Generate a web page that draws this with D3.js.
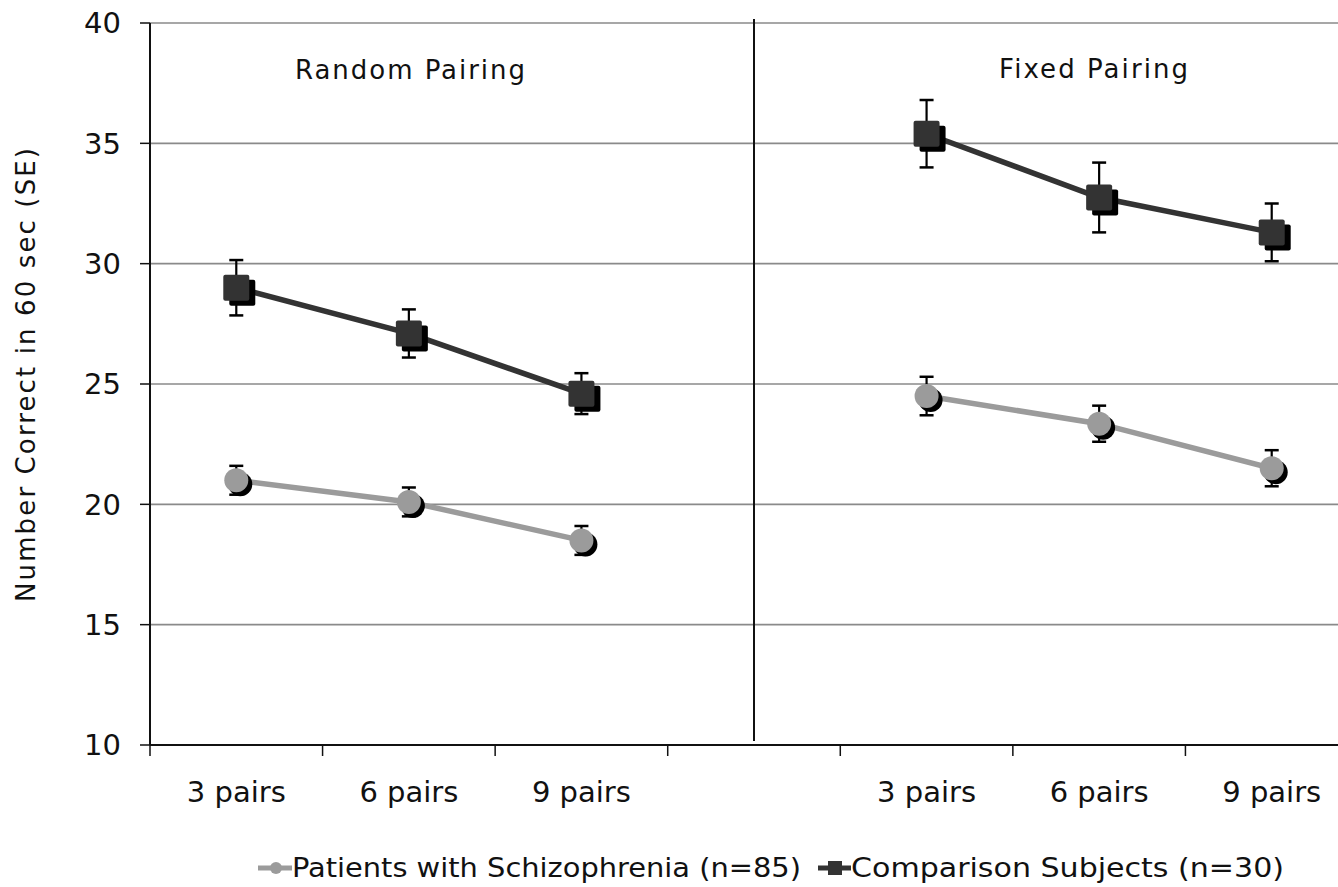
<!DOCTYPE html>
<html><head><meta charset="utf-8">
<script src="https://cdn.jsdelivr.net/npm/d3@7"></script>
<style>body{margin:0;background:#fff;} svg{display:block;}</style>
</head><body>
<svg id="c" width="1338" height="887"></svg>
<script>
const categories = ["3 pairs","6 pairs","9 pairs","","3 pairs","6 pairs","9 pairs"];
const panels = ["Random Pairing","Fixed Pairing"];
const yTicks = [10,15,20,25,30,35,40];
const seriesNames = ["Patients with Schizophrenia (n=85)","Comparison Subjects (n=30)"];
// category index, value, SE
const patientsIdx = [0,1,2,4,5,6];
const patientsVal = [21.0,20.1,18.5,24.5,23.35,21.5];
const patientsSE  = [0.6,0.6,0.6,0.8,0.75,0.75];
const compIdx = [0,1,2,4,5,6];
const compVal = [29.0,27.1,24.6,35.4,32.75,31.3];
const compSE  = [1.15,1.0,0.85,1.4,1.45,1.2];

const svg = d3.select("#c");
const L=150, T=23, B=745, R=1358;
const x = d3.scaleBand().domain(d3.range(categories.length)).range([L,R]).padding(0);
const y = d3.scaleLinear().domain([10,40]).range([B,T]);
const font = "DejaVu Sans, Verdana, sans-serif";
const fontC = "DejaVu Sans Condensed, DejaVu Sans, sans-serif";

// gridlines
svg.append("g").selectAll("line").data(yTicks.filter(d=>d>10)).join("line")
  .attr("x1",L).attr("x2",R).attr("y1",d=>y(d)).attr("y2",d=>y(d))
  .attr("stroke","#8a8a8a").attr("stroke-width",1.6);

// y axis
const ya = svg.append("g");
ya.append("line").attr("x1",L).attr("x2",L).attr("y1",T).attr("y2",B).attr("stroke","#111").attr("stroke-width",2);
ya.selectAll(".t").data(yTicks).join("line").attr("x1",L-10).attr("x2",L).attr("y1",d=>y(d)).attr("y2",d=>y(d)).attr("stroke","#111").attr("stroke-width",1.5);
ya.selectAll("text").data(yTicks).join("text").attr("x",L-29).attr("y",d=>y(d)).attr("dy","0.36em")
  .attr("text-anchor","end").attr("font-family",font).attr("font-size",29).attr("fill","#111").text(d=>d);

// x axis
const xa = svg.append("g");
xa.append("line").attr("x1",L).attr("x2",R).attr("y1",B).attr("y2",B).attr("stroke","#111").attr("stroke-width",2);
xa.selectAll(".t").data(d3.range(categories.length)).join("line").attr("x1",d=>x(d)).attr("x2",d=>x(d)).attr("y1",B).attr("y2",B+11).attr("stroke","#111").attr("stroke-width",1.5);
xa.selectAll("text").data(categories).join("text").attr("x",(d,i)=>x(i)+x.bandwidth()/2).attr("y",802)
  .attr("text-anchor","middle").attr("font-family",font).attr("font-size",29).attr("fill","#111").text(d=>d);

// divider
svg.append("line").attr("x1",x(3)+x.bandwidth()/2).attr("x2",x(3)+x.bandwidth()/2).attr("y1",19).attr("y2",741).attr("stroke","#111").attr("stroke-width",2);

// panel titles
svg.append("text").attr("x",295).attr("y",79).attr("font-family",font).attr("font-size",26).attr("fill","#111")
  .attr("textLength",230).attr("lengthAdjust","spacing").text(panels[0]);
svg.append("text").attr("x",999).attr("y",78).attr("font-family",font).attr("font-size",26).attr("fill","#111")
  .attr("textLength",189).attr("lengthAdjust","spacing").text(panels[1]);

// y label
svg.append("text").attr("transform",`translate(35,${(147+603)/2}) rotate(-90)`).attr("x",-227)
  .attr("font-family",font).attr("font-size",26).attr("fill","#111")
  .attr("textLength",454).attr("lengthAdjust","spacing").text("Number Correct in 60 sec (SE)");

function drawSeries(idx, val, se, color, shape){
  const pts = idx.map((c,i)=>({cx:x(c)+x.bandwidth()/2, v:val[i], se:se[i], g:c<3?0:1}));
  const g = svg.append("g");
  pts.forEach(p=>{
    g.append("line").attr("x1",p.cx).attr("x2",p.cx).attr("y1",y(p.v+p.se)).attr("y2",y(p.v-p.se)).attr("stroke","#000").attr("stroke-width",2.2);
    [p.v+p.se,p.v-p.se].forEach(e=>g.append("line").attr("x1",p.cx-7).attr("x2",p.cx+7).attr("y1",y(e)).attr("y2",y(e)).attr("stroke","#000").attr("stroke-width",2.5));
  });
  const line = d3.line().x(p=>p.cx).y(p=>y(p.v));
  [0,1].forEach(gr=>g.append("path").datum(pts.filter(p=>p.g===gr)).attr("d",line).attr("fill","none").attr("stroke",color).attr("stroke-width",5.5));
  pts.forEach(p=>{
    if(shape==="circle"){
      g.append("circle").attr("cx",p.cx+4).attr("cy",y(p.v)+4).attr("r",12).attr("fill","#000");
      g.append("circle").attr("cx",p.cx).attr("cy",y(p.v)).attr("r",12).attr("fill",color);
    } else {
      g.append("rect").attr("x",p.cx-13+6).attr("y",y(p.v)-13+5).attr("width",26).attr("height",26).attr("rx",2).attr("fill","#000");
      g.append("rect").attr("x",p.cx-13).attr("y",y(p.v)-13).attr("width",26).attr("height",26).attr("rx",2).attr("fill",color);
    }
  });
}
drawSeries(patientsIdx, patientsVal, patientsSE, "#9b9b9b", "circle");
drawSeries(compIdx, compVal, compSE, "#333333", "square");

// legend
const lg = svg.append("g");
lg.append("line").attr("x1",258).attr("x2",292).attr("y1",868).attr("y2",868).attr("stroke","#9b9b9b").attr("stroke-width",5);
lg.append("circle").attr("cx",276).attr("cy",868).attr("r",6).attr("fill","#9b9b9b");
lg.append("text").attr("x",292).attr("y",877).attr("font-family",fontC).attr("font-size",26).attr("fill","#111").attr("textLength",509).attr("lengthAdjust","spacingAndGlyphs").text(seriesNames[0]);
lg.append("line").attr("x1",818).attr("x2",851).attr("y1",868).attr("y2",868).attr("stroke","#333").attr("stroke-width",5);
lg.append("rect").attr("x",828).attr("y",861).attr("width",14).attr("height",14).attr("fill","#333");
lg.append("text").attr("x",851).attr("y",877).attr("font-family",fontC).attr("font-size",26).attr("fill","#111").attr("textLength",433).attr("lengthAdjust","spacingAndGlyphs").text(seriesNames[1]);
</script>
</body></html>
